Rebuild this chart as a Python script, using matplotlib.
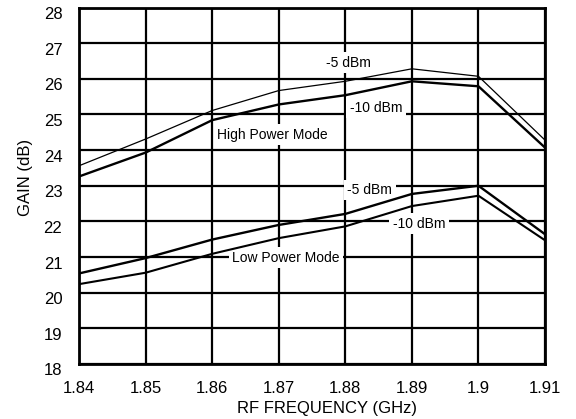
import numpy as np
import matplotlib
matplotlib.use('Agg')
import matplotlib.pyplot as plt
import matplotlib.transforms as mtransforms

plt.rcParams['font.family'] = ['Liberation Sans', 'DejaVu Sans']

# Data
freq = [1.84, 1.85, 1.86, 1.87, 1.88, 1.89, 1.90, 1.91]
high_5dbm = [23.56, 24.31, 25.11, 25.67, 25.93, 26.28, 26.07, 24.28]
high_10dbm = [23.26, 23.93, 24.84, 25.28, 25.54, 25.93, 25.79, 24.07]
low_5dbm = [20.54, 20.97, 21.49, 21.90, 22.21, 22.77, 23.00, 21.64]
low_10dbm = [20.24, 20.56, 21.09, 21.53, 21.86, 22.43, 22.72, 21.47]

x_ticks = [1.84, 1.85, 1.86, 1.87, 1.88, 1.89, 1.90, 1.91]
x_labels = ['1.84', '1.85', '1.86', '1.87', '1.88', '1.89', '1.9', '1.91']
y_ticks = list(range(18, 29))

fig = plt.figure(figsize=(5.76, 4.19), dpi=100)
ax = fig.add_axes([0.1372, 0.1313, 0.8090, 0.8508])

# Curves
ax.plot(freq, high_5dbm, color='black', lw=0.9, zorder=3)
ax.plot(freq, high_10dbm, color='black', lw=1.7, zorder=3)
ax.plot(freq, low_5dbm, color='black', lw=1.7, zorder=3)
ax.plot(freq, low_10dbm, color='black', lw=1.5, zorder=3)

ax.set_xlim(1.84, 1.91)
ax.set_ylim(18, 28)
ax.set_xticks(x_ticks)
ax.set_xticklabels(x_labels)
ax.set_yticks(y_ticks)
ax.grid(True, color='black', lw=1.6)
ax.set_axisbelow(True)
for s in ax.spines.values():
    s.set_linewidth(2.0)
ax.tick_params(axis='both', length=0, labelsize=12)
ax.tick_params(axis='x', pad=12)
ax.tick_params(axis='y', pad=12)

# y tick labels sit a little low in the original
offset = mtransforms.ScaledTranslation(0, -0.055, fig.dpi_scale_trans)
for lab in ax.get_yticklabels():
    lab.set_transform(lab.get_transform() + offset)

ax.set_xlabel('RF FREQUENCY (GHz)', fontsize=12)
ax.xaxis.set_label_coords(0.532, -0.104)
ax.set_ylabel('GAIN (dB)', fontsize=12)
ax.yaxis.set_label_coords(-0.099, 0.5245)

# Curve annotations with white boxes over the grid
box = dict(boxstyle='square,pad=0.25', fc='white', ec='none')
notes = [
    ('-5 dBm', 1.8804, 26.45),
    ('-10 dBm', 1.8846, 25.19),
    ('High Power Mode', 1.8691, 24.43),
    ('-5 dBm', 1.8837, 22.88),
    ('-10 dBm', 1.8911, 21.94),
    ('Low Power Mode', 1.8711, 20.98),
]
for txt, xx, yy in notes:
    ax.text(xx, yy, txt, fontsize=10, ha='center', va='center', bbox=box, zorder=2)

fig.savefig('out.png', dpi=100)
